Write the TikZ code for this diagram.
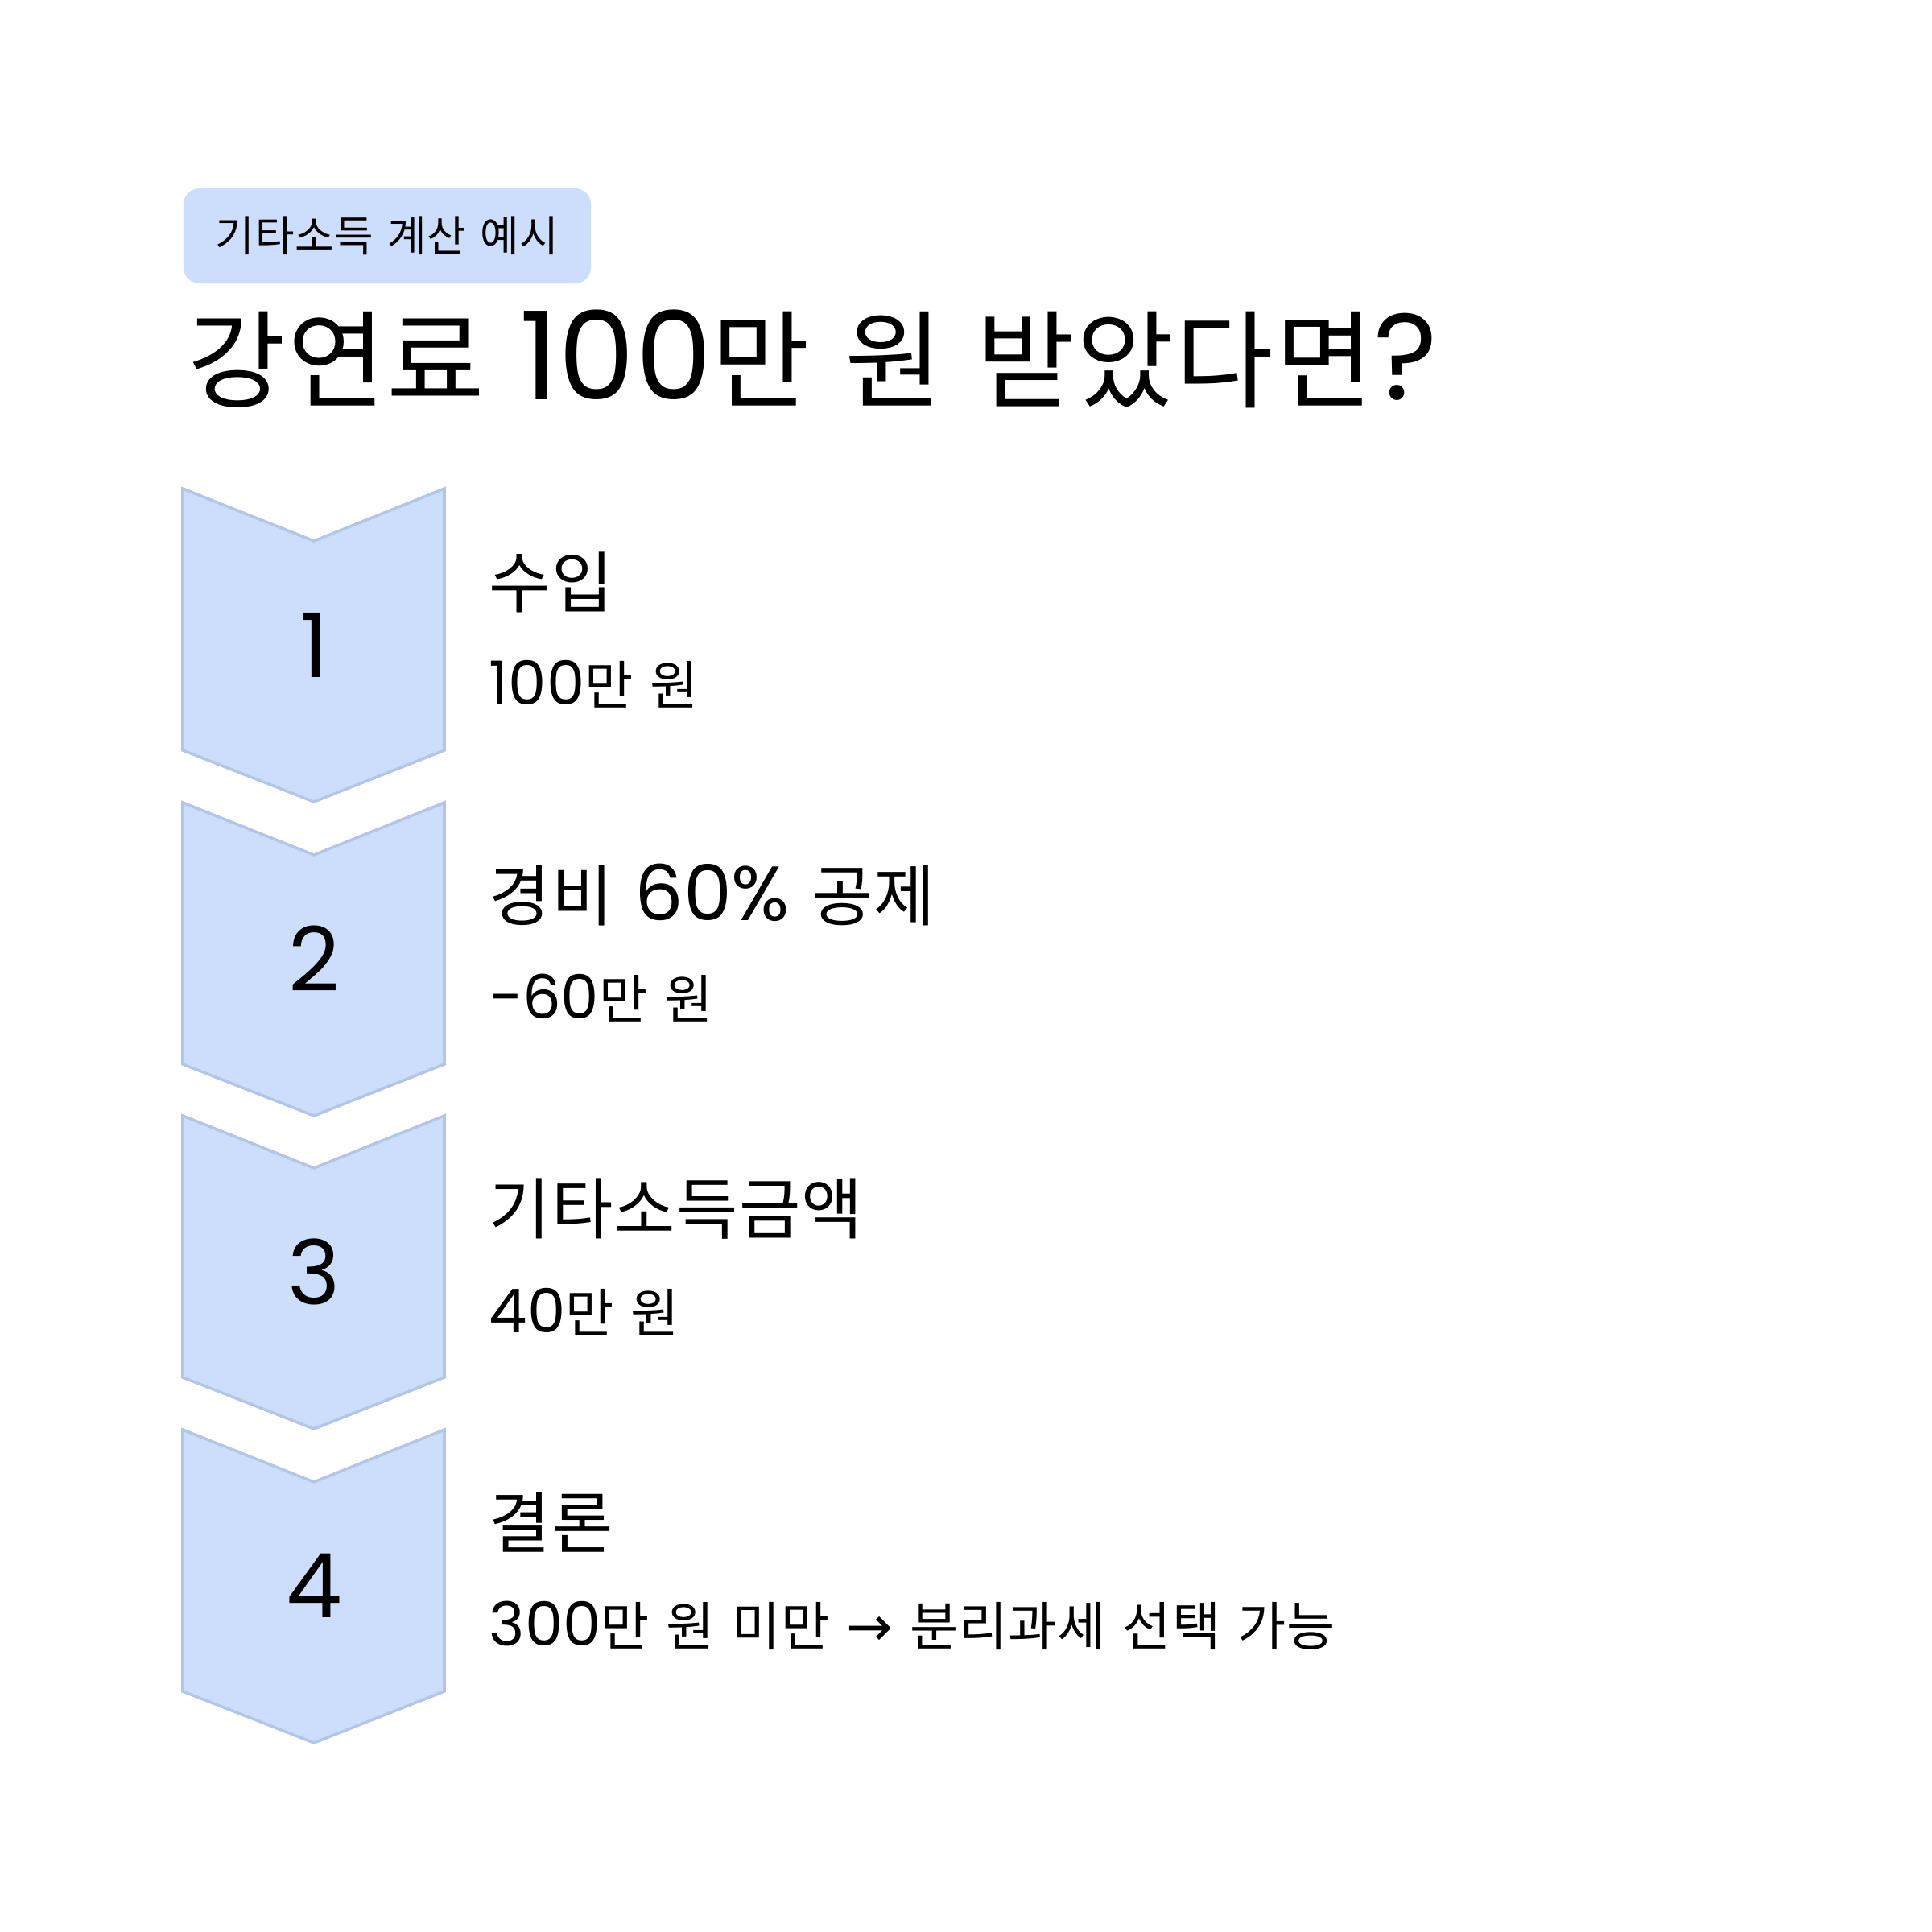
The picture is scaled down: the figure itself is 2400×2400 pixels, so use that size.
\documentclass[tikz,border=0pt]{standalone}
\usepackage{fontspec}
\setmainfont[WordSpace=1.35, LetterSpace=1.5]{Noto Sans CJK KR}
\newfontfamily\latfont[Scale=1.15]{Poppins}
\newfontfamily\numfont{Poppins}
\newfontfamily\arrowfont[Scale=1.05]{DejaVu Sans}
\newcommand{\lat}[1]{{\latfont #1}}
\definecolor{chevfill}{HTML}{CDDDFC}
\definecolor{chevline}{HTML}{B3C5E9}
\definecolor{tagfill}{HTML}{CDDDFC}

\begin{document}
\begin{tikzpicture}[x=0.01cm, y=-0.01cm,
    chev/.style={fill=chevfill, draw=chevline, line width=1pt, line join=miter},
    tag/.style={fill=tagfill, rounded corners=0.2cm, minimum width=5.06cm,
      minimum height=1.18cm, inner sep=0pt, font=\fontsize{15}{15}\selectfont},
    title/.style={anchor=west, inner sep=0pt, font=\fontsize{37.6}{37.6}\selectfont},
    num/.style={inner sep=0pt, font=\fontsize{31.5}{31.5}\numfont},
    head/.style={anchor=west, inner sep=0pt, font=\fontsize{23.6}{23.6}\selectfont},
    sub/.style={anchor=west, inner sep=0pt, font=\fontsize{18.6}{18.6}\selectfont}]
  \fill[white] (0,0) rectangle (2400,2400);
  \useasboundingbox (0,0) rectangle (2400,2400);

  % header
  \node[tag] (tag) at (481,293) {기타소득 계산 예시};
  \node[title] (title) at (233,446) {강연료 \lat{100}만 원 받았다면\lat{?}};

  % chevrons
  \draw[chev] (227,607) -- (390,672) -- (552,607) -- (552,932) -- (390,996) -- (227,932) -- cycle;
  \draw[chev] (227,997) -- (390,1062) -- (552,997) -- (552,1322) -- (390,1386) -- (227,1322) -- cycle;
  \draw[chev] (227,1386) -- (390,1451) -- (552,1386) -- (552,1711) -- (390,1775) -- (227,1711) -- cycle;
  \draw[chev] (227,1776) -- (390,1841) -- (552,1776) -- (552,2101) -- (390,2165) -- (227,2101) -- cycle;

  \node[num] (n1) at (390,801) {1};
  \node[num] (n2) at (390,1191) {2};
  \node[num] (n3) at (390,1580) {3};
  \node[num] (n4) at (390,1970) {4};

  % steps
  \node[head] (h1) at (607,723) {수입};
  \node[sub] (s1) at (607,850) {\lat{100}만 원};
  \node[head] (h2) at (607,1112) {경비 \lat{60\%} 공제};
  \node[sub] (s2) at (607,1240) {\lat{−60}만 원};
  \node[head] (h3) at (607,1502) {기타소득금액};
  \node[sub] (s3) at (607,1630) {\lat{40}만 원};
  \node[head] (h4) at (607,1891) {결론};
  \node[sub] (s4) at (607,2019) {\lat{300}만 원 미만 {\arrowfont →} 분리과세 선택 가능};
\end{tikzpicture}
\end{document}
